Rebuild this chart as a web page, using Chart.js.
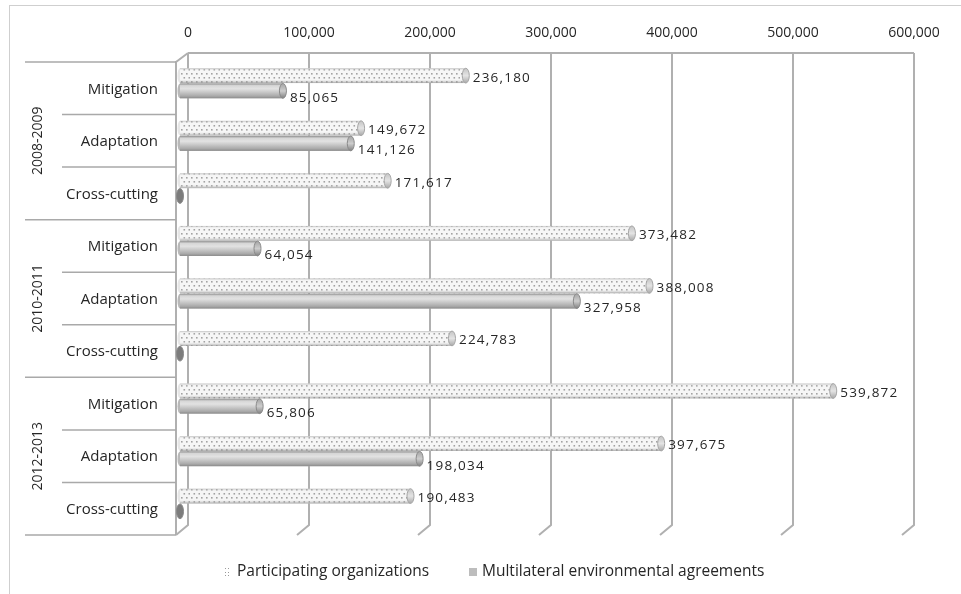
<!DOCTYPE html>
<html>
<head>
<meta charset="utf-8">
<script src="https://cdn.jsdelivr.net/npm/chart.js@4/dist/chart.umd.min.js"></script>
<style>
  html, body { margin: 0; padding: 0; background: #ffffff; }
  canvas { display: block; }
</style>
</head>
<body>
<canvas id="chart" width="961" height="594"></canvas>
<script>
// Funding by period and theme, two sources
const periods = ['2008-2009', '2010-2011', '2012-2013'];
const categories = [
  'Mitigation', 'Adaptation', 'Cross-cutting',
  'Mitigation', 'Adaptation', 'Cross-cutting',
  'Mitigation', 'Adaptation', 'Cross-cutting'
];
const participating = [236180, 149672, 171617, 373482, 388008, 224783, 539872, 397675, 190483];
const multilateral = [85065, 141126, 0, 64054, 327958, 0, 65806, 198034, 0];
const seriesNames = ['Participating organizations', 'Multilateral environmental agreements'];
const xTicks = [0, 100000, 200000, 300000, 400000, 500000, 600000];

const FONT = 'Open Sans';
const TEXT = '#262626';
const LINE = '#b0b0b0';
// 3D depth offset of the back wall relative to the bar plane
const BACK_DX = 8, BACK_DY = -4, FRONT_DX = -4, FRONT_DY = 5;

const fmt = v => Number(v).toLocaleString('en-US');

function dotPattern(ctx) {
  const c = document.createElement('canvas');
  c.width = 10; c.height = 8;
  const g = c.getContext('2d');
  g.fillStyle = '#f6f6f6';
  g.fillRect(0, 0, 10, 8);
  g.fillStyle = '#a2a2a2';
  g.fillRect(1, 1, 1.6, 1.6);
  g.fillRect(6, 1, 1.6, 1.6);
  g.fillRect(3.5, 5, 1.6, 1.6);
  g.fillRect(8.5, 5, 1.6, 1.6);
  return ctx.createPattern(c, 'repeat');
}

const canvas = document.getElementById('chart');
const ctx0 = canvas.getContext('2d');
const dots = dotPattern(ctx0);

// Walls, gridlines and category separators
const framePlugin = {
  id: 'frame',
  beforeDatasetsDraw(chart) {
    const { ctx, chartArea: a, scales: { x } } = chart;
    ctx.save();
    // outer chart border
    ctx.strokeStyle = '#cfcfcf';
    ctx.lineWidth = 1;
    ctx.strokeRect(9.5, 5.5, 1200, 1200);

    const backTop = a.top + BACK_DY, backBot = a.bottom + BACK_DY - 1;
    const frontTop = a.top + FRONT_DY, frontBot = a.bottom + FRONT_DY;
    const dx = BACK_DX - FRONT_DX, dyB = frontBot - backBot;

    ctx.strokeStyle = LINE;
    ctx.lineWidth = 2;
    // back top edge
    ctx.beginPath();
    ctx.moveTo(x.getPixelForValue(xTicks[0]) + BACK_DX, backTop);
    ctx.lineTo(x.getPixelForValue(xTicks[xTicks.length - 1]) + BACK_DX, backTop);
    ctx.stroke();
    // gridlines on the back wall, folding onto the floor
    xTicks.forEach(v => {
      const bx = x.getPixelForValue(v) + BACK_DX;
      ctx.beginPath();
      ctx.moveTo(bx, backTop);
      ctx.lineTo(bx, backBot);
      ctx.lineTo(bx - dx, backBot + dyB);
      ctx.stroke();
    });
    // side wall front edge
    const fx = x.getPixelForValue(0) + FRONT_DX;
    const bx0 = x.getPixelForValue(0) + BACK_DX;
    ctx.beginPath();
    ctx.moveTo(bx0, backTop);
    ctx.lineTo(fx, frontTop);
    ctx.lineTo(fx, frontBot);
    ctx.stroke();

    // category separators
    ctx.lineWidth = 1.5;
    ctx.strokeStyle = '#a9a9a9';
    const band = (a.bottom - a.top) / categories.length;
    for (let i = 0; i <= categories.length; i++) {
      const yy = a.top + i * band + FRONT_DY;
      const x0 = (i % 3 === 0) ? 25 : 62;
      ctx.beginPath();
      ctx.moveTo(x0, yy);
      ctx.lineTo(fx, yy);
      ctx.stroke();
    }
    ctx.restore();
  },
  afterDraw(chart) {
    const { ctx, scales: { y } } = chart;
    ctx.save();
    // period labels, rotated
    ctx.fillStyle = TEXT;
    ctx.font = '14px "' + FONT + '"';
    ctx.textAlign = 'center';
    ctx.textBaseline = 'middle';
    periods.forEach((p, i) => {
      const yc = (y.getPixelForValue(i * 3) + y.getPixelForValue(i * 3 + 2)) / 2 + FRONT_DY;
      ctx.save();
      ctx.translate(38, yc);
      ctx.rotate(-Math.PI / 2);
      ctx.fillText(p, 0, 0);
      ctx.restore();
    });

    // legend
    const ly = 572;
    ctx.font = '15.5px "' + FONT + '"';
    ctx.textAlign = 'left';
    ctx.textBaseline = 'middle';
    ctx.fillStyle = '#9a9a9a';
    [[225, ly - 4], [228, ly - 4], [225, ly], [228, ly], [225, ly + 3], [228, ly + 3]].forEach(([px, py]) => ctx.fillRect(px, py, 1, 1));
    ctx.fillStyle = TEXT;
    ctx.fillText(seriesNames[0], 237, ly);
    ctx.fillStyle = '#bdbdbd';
    ctx.fillRect(469, ly - 4, 8, 8);
    ctx.fillStyle = TEXT;
    ctx.fillText(seriesNames[1], 482, ly);
    ctx.restore();
  }
};

// Cylinder shading, end caps and value labels
const cylinderPlugin = {
  id: 'cylinder',
  afterDatasetsDraw(chart) {
    const { ctx } = chart;
    ctx.save();
    chart.data.datasets.forEach((ds, di) => {
      const meta = chart.getDatasetMeta(di);
      meta.data.forEach((el, i) => {
        const h = el.height;
        const top = el.y - h / 2, bot = el.y + h / 2;
        const x0 = Math.min(el.base, el.x), x1 = Math.max(el.base, el.x);
        // body shading
        if (x1 - x0 > 0.5) {
          const g = ctx.createLinearGradient(0, top, 0, bot);
          if (di === 0) {
            g.addColorStop(0, 'rgba(150,150,150,0.6)');
            g.addColorStop(0.18, 'rgba(255,255,255,0)');
            g.addColorStop(0.72, 'rgba(255,255,255,0)');
            g.addColorStop(1, 'rgba(110,110,110,0.6)');
          } else {
            g.addColorStop(0, '#8e8e8e');
            g.addColorStop(0.14, '#d6d6d6');
            g.addColorStop(0.35, '#e2e2e2');
            g.addColorStop(0.6, '#c6c6c6');
            g.addColorStop(0.85, '#a9a9a9');
            g.addColorStop(1, '#8a8a8a');
          }
          ctx.fillStyle = g;
          ctx.fillRect(x0, top, x1 - x0, h);
          // rounded start
          ctx.beginPath();
          ctx.ellipse(x0, el.y, 2.5, h / 2, 0, Math.PI / 2, Math.PI * 1.5);
          ctx.fillStyle = di === 0 ? '#e6e6e6' : '#b8b8b8';
          ctx.fill();
        }
        // end cap
        const cg = ctx.createLinearGradient(0, top, 0, bot);
        if (di === 0) {
          cg.addColorStop(0, '#c4c4c4');
          cg.addColorStop(0.5, '#e4e4e4');
          cg.addColorStop(1, '#a8a8a8');
        } else {
          cg.addColorStop(0, '#a4a4a4');
          cg.addColorStop(0.5, '#cdcdcd');
          cg.addColorStop(1, '#808080');
        }
        ctx.beginPath();
        ctx.ellipse(x1, el.y, 3.5, h / 2, 0, 0, Math.PI * 2);
        ctx.fillStyle = (x1 - x0 > 0.5) ? cg : '#7c7c7c';
        ctx.fill();
        ctx.lineWidth = 1;
        ctx.strokeStyle = di === 0 ? '#a6a6a6' : '#8a8a8a';
        ctx.stroke();

        // value label
        const v = ds.data[i];
        if (v) {
          ctx.fillStyle = TEXT;
          ctx.font = '13.5px "' + FONT + '"';
          ctx.letterSpacing = '1.2px';
          ctx.textAlign = 'left';
          ctx.textBaseline = 'middle';
          ctx.fillText(fmt(v), x1 + 7, el.y + (di === 0 ? 2 : 7));
          ctx.letterSpacing = '0px';
        }
      });
    });
    ctx.restore();
  }
};

new Chart(canvas, {
  type: 'bar',
  data: {
    labels: categories,
    datasets: [
      {
        label: seriesNames[0],
        data: participating,
        backgroundColor: dots,
        borderWidth: 0,
        categoryPercentage: 0.58,
        barPercentage: 0.97
      },
      {
        label: seriesNames[1],
        data: multilateral,
        backgroundColor: '#c4c4c4',
        borderWidth: 0,
        categoryPercentage: 0.58,
        barPercentage: 0.97
      }
    ]
  },
  options: {
    indexAxis: 'y',
    responsive: false,
    animation: false,
    devicePixelRatio: 1,
    layout: { padding: { left: 0, right: 55, top: 0, bottom: 64 } },
    plugins: { legend: { display: false }, tooltip: { enabled: false } },
    scales: {
      x: {
        position: 'top',
        min: 0,
        max: 600000,
        afterFit(s) { s.height = 57; },
        afterBuildTicks(s) { s.ticks = xTicks.map(v => ({ value: v })); },
        grid: { display: false, drawTicks: false },
        border: { display: false },
        ticks: {
          padding: 16,
          labelOffset: 8,
          maxRotation: 0,
          autoSkip: false,
          color: TEXT,
          font: { family: FONT, size: 14 },
          callback: v => fmt(v)
        }
      },
      y: {
        afterFit(s) { s.width = 180; },
        grid: { display: false, drawTicks: false },
        border: { display: false },
        ticks: {
          padding: 22,
          labelOffset: 6,
          autoSkip: false,
          color: TEXT,
          font: { family: FONT, size: 15 }
        }
      }
    }
  },
  plugins: [framePlugin, cylinderPlugin]
});
</script>
</body>
</html>
